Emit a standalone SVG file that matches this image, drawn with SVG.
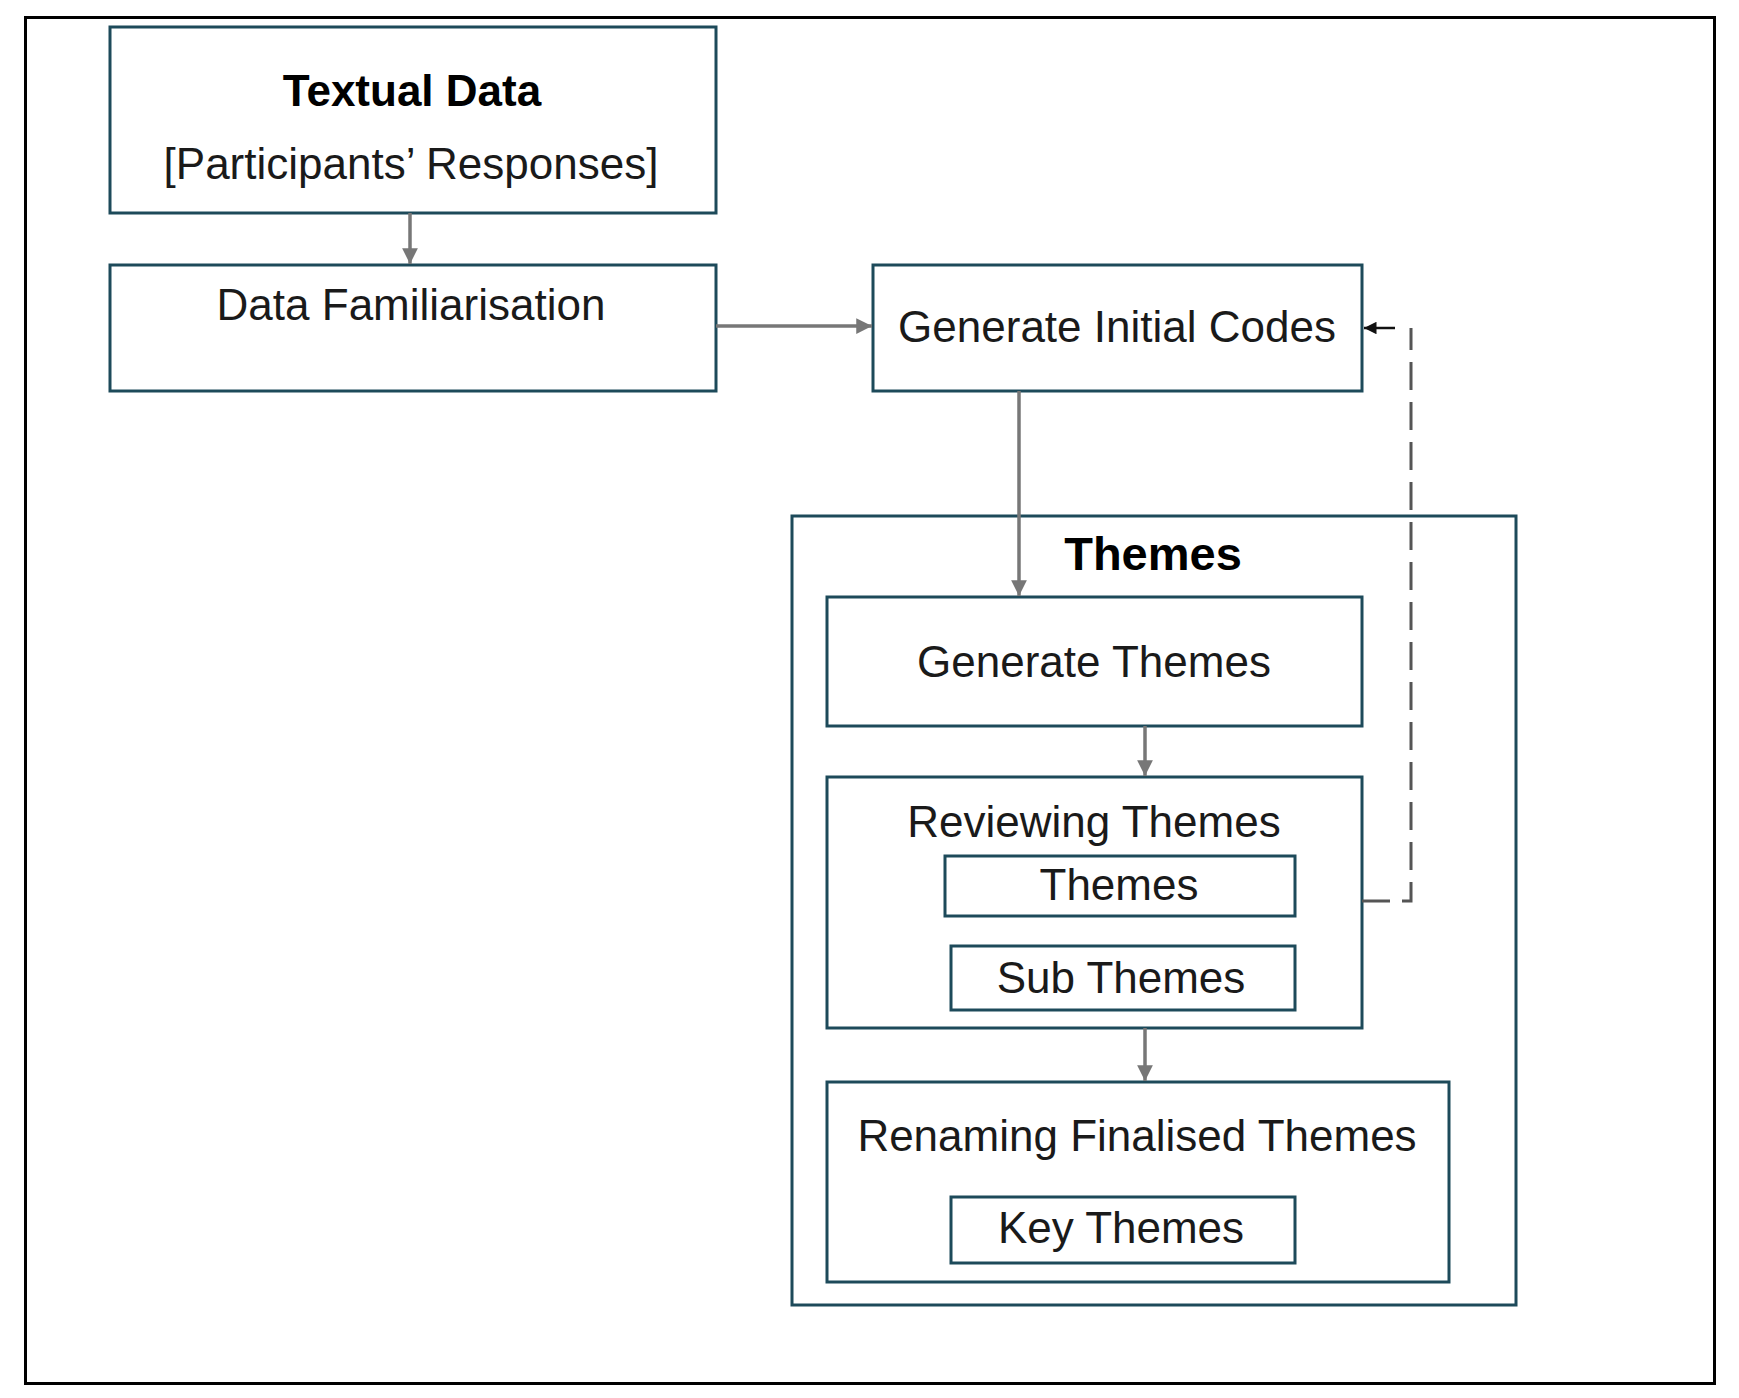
<svg xmlns="http://www.w3.org/2000/svg" width="1739" height="1398" viewBox="0 0 1739 1398">
<defs>
<style>
.box{fill:#fff;stroke:#1d4a5a;stroke-width:3}
.t{font-family:"Liberation Sans",Arial,sans-serif;font-size:44px;fill:#1a1a1a;text-anchor:middle}
.b{font-weight:bold;fill:#000}
.c{fill:none;stroke:#777;stroke-width:3.5}
.d{fill:none;stroke:#555;stroke-width:3;stroke-dasharray:28,12}
</style>
<marker id="ah" viewBox="0 0 10 10" refX="10" refY="5" markerWidth="4.5" markerHeight="4.5" orient="auto" markerUnits="strokeWidth">
<path d="M0,0 L10,5 L0,10 z" fill="#777"/>
</marker>
<marker id="ak" viewBox="0 0 10 10" refX="10" refY="5" markerWidth="5" markerHeight="5" orient="auto" markerUnits="strokeWidth">
<path d="M0,0 L10,5 L0,10 z" fill="#111"/>
</marker>
</defs>
<rect x="0" y="0" width="1739" height="1398" fill="#fff"/>
<rect x="25.5" y="17.5" width="1689" height="1366" fill="none" stroke="#000" stroke-width="3"/>

<g id="n-textual">
<rect class="box" x="110" y="27" width="606" height="186"/>
<text class="t b" x="412" y="106">Textual Data</text>
<text class="t" x="411" y="179">[Participants’ Responses]</text>
</g>
<g id="n-familiar">
<rect class="box" x="110" y="265" width="606" height="126"/>
<text class="t" x="411" y="320">Data Familiarisation</text>
</g>
<g id="n-codes">
<rect class="box" x="873" y="265" width="489" height="126"/>
<text class="t" x="1117" y="342">Generate Initial Codes</text>
</g>
<g id="n-themes-group">
<rect class="box" x="792" y="516" width="724" height="789"/>
<text class="t b" x="1153" y="570" style="font-size:47px">Themes</text>
</g>
<g id="n-generate">
<rect class="box" x="827" y="597" width="535" height="129"/>
<text class="t" x="1094" y="677">Generate Themes</text>
</g>
<g id="n-reviewing">
<rect class="box" x="827" y="777" width="535" height="251"/>
<text class="t" x="1094" y="837">Reviewing Themes</text>
</g>
<g id="n-themes-inner">
<rect class="box" x="945" y="856" width="350" height="60"/>
<text class="t" x="1119" y="900">Themes</text>
</g>
<g id="n-sub">
<rect class="box" x="951" y="946" width="344" height="64"/>
<text class="t" x="1121" y="993">Sub Themes</text>
</g>
<g id="n-renaming">
<rect class="box" x="827" y="1082" width="622" height="200"/>
<text class="t" x="1137" y="1151">Renaming Finalised Themes</text>
</g>
<g id="n-key">
<rect class="box" x="951" y="1197" width="344" height="66"/>
<text class="t" x="1121" y="1243">Key Themes</text>
</g>

<g id="connectors">
<line class="c" x1="410" y1="213" x2="410" y2="264" marker-end="url(#ah)"/>
<line class="c" x1="716" y1="326" x2="872" y2="326" marker-end="url(#ah)"/>
<line class="c" x1="1019" y1="391" x2="1019" y2="596" marker-end="url(#ah)"/>
<line class="c" x1="1145" y1="726" x2="1145" y2="776" marker-end="url(#ah)"/>
<line class="c" x1="1145" y1="1028" x2="1145" y2="1081" marker-end="url(#ah)"/>
<polyline class="d" points="1362,901 1411,901 1411,328"/>
<line x1="1395" y1="328" x2="1364" y2="328" stroke="#111" stroke-width="2.5" marker-end="url(#ak)"/>
</g>
</svg>
